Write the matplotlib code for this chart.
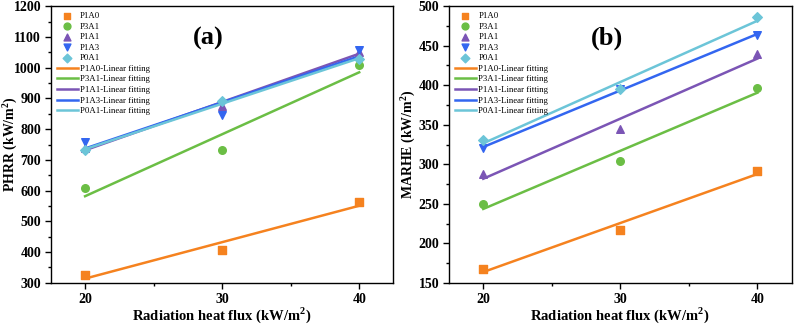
import numpy as np
import matplotlib
matplotlib.use('Agg')
import matplotlib.pyplot as plt
from matplotlib.ticker import MultipleLocator

plt.rcParams['font.family'] = 'Liberation Serif'
plt.rcParams['mathtext.fontset'] = 'custom'
plt.rcParams['mathtext.rm'] = 'Liberation Serif'
plt.rcParams['mathtext.bf'] = 'Liberation Serif:bold'

flux = [20, 30, 40]
samples = ['P1A0', 'P3A1', 'P1A1', 'P1A3', 'P0A1']
colors = ['#F5821F', '#6BBE45', '#7B55B5', '#3366F0', '#6CC5D8']
markers = ['s', 'o', '^', 'v', 'D']

# PHRR (kW/m2)
phrr_p1a0 = [327, 406, 564]
phrr_p3a1 = [607, 733, 1010]
phrr_p1a1 = [738, 875, 1052]
phrr_p1a3 = [757, 847, 1057]
phrr_p0a1 = [731, 890, 1027]

# MARHE (kW/m2)
marhe_p1a0 = [168, 217, 292]
marhe_p3a1 = [250, 304, 397]
marhe_p1a1 = [288, 345, 440]
marhe_p1a3 = [321, 395, 464]
marhe_p0a1 = [331, 395, 486]

phrr = [phrr_p1a0, phrr_p3a1, phrr_p1a1, phrr_p1a3, phrr_p0a1]
marhe = [marhe_p1a0, marhe_p3a1, marhe_p1a1, marhe_p1a3, marhe_p0a1]

fig, (ax1, ax2) = plt.subplots(1, 2, figsize=(7.94, 3.24), dpi=100)
fig.subplots_adjust(left=0.064, right=0.997, top=0.981, bottom=0.127, wspace=0.162)


def draw(ax, data, ylabel, ylim, major, tag):
    x = np.array(flux)
    for name, y, c, m in zip(samples, data, colors, markers):
        ax.scatter(x, y, color=c, marker=m, s=30 if m != 'D' else 24, label=name, zorder=3)
    for name, y, c in zip(samples, data, colors):
        k, b = np.polyfit(x, y, 1)
        ax.plot(x, k * x + b, color=c, lw=1.8, label=name + '-Linear fitting', zorder=2)
    ax.set_xlim(17.5, 42.5)
    ax.set_ylim(*ylim)
    ax.set_xticks(flux)
    ax.xaxis.set_minor_locator(MultipleLocator(5))
    ax.yaxis.set_major_locator(MultipleLocator(major))
    ax.yaxis.set_minor_locator(MultipleLocator(major / 2))
    ax.tick_params(which='both', direction='out', width=1)
    ax.tick_params(which='major', length=4, labelsize=10, pad=3)
    ax.tick_params(which='minor', length=2.5)
    for lab in ax.get_xticklabels() + ax.get_yticklabels():
        lab.set_fontweight('bold')
    for s in ax.spines.values():
        s.set_linewidth(1)
    ax.set_xlabel(r'Radiation heat flux (kW/m$^\mathbf{2}$)', fontsize=10.5, fontweight='bold')
    ax.xaxis.set_label_coords(0.5, -0.08)
    ax.set_ylabel(ylabel, fontsize=10, fontweight='bold')
    ax.yaxis.set_label_coords(-0.094, 0.5)
    ax.text(0.46, 0.885, tag, transform=ax.transAxes, fontsize=19, fontweight='bold',
            ha='center', va='center')
    ax.legend(loc='upper left', fontsize=6.3, frameon=False, handlelength=2.4,
              handletextpad=0.3, labelspacing=0.28, borderaxespad=0.3, borderpad=0.35,
              markerscale=0.9)


draw(ax1, phrr, r'PHRR (kW/m$^\mathbf{2}$)', (300, 1200), 100, '(a)')
draw(ax2, marhe, r'MARHE (kW/m$^\mathbf{2}$)', (150, 500), 50, '(b)')

fig.savefig('out.png', dpi=100)
